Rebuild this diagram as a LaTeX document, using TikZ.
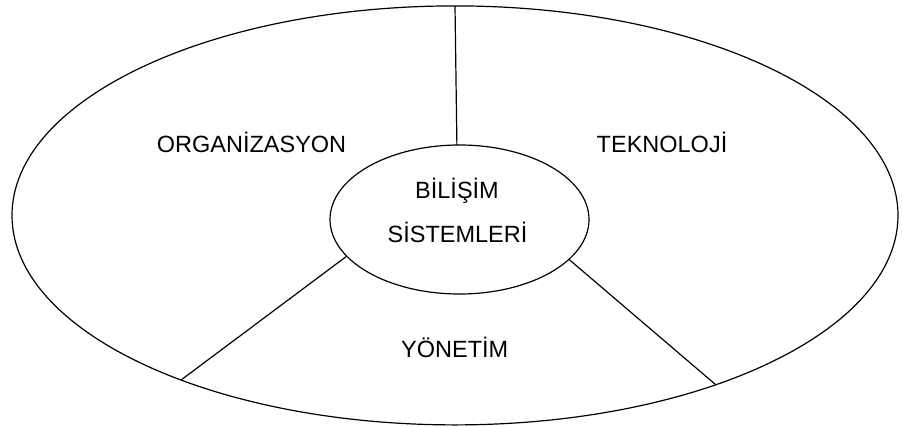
\documentclass[tikz,border=0pt]{standalone}
\usepackage{fontspec}
\setmainfont{Liberation Sans}
\usetikzlibrary{shapes.geometric}
\begin{document}
\begin{tikzpicture}[x=1pt,y=-1pt,
  ring/.style={draw=black,line width=1.2pt,ellipse,inner sep=0pt,outer sep=0pt},
  conn/.style={draw=black,line width=1.2pt},
  lbl/.style={inner sep=0pt,anchor=base,font=\fontsize{23.5}{28}\selectfont}]
\useasboundingbox (0,0) rectangle (902,426);
\node[ring,minimum width=886pt,minimum height=419pt] (big) at (455,215.4) {};
\node[ring,minimum width=259pt,minimum height=149pt] (small) at (459.5,219.5) {};
\draw[conn] (big.north) -- (small.92.7);
\draw[conn] (small.198.9) -- (big.211.9);
\draw[conn] (small.340.1) -- (big.327.4);
\node[lbl] (org) at (251.5,152) {ORGANİZASYON};
\node[lbl] (tek) at (662,152) {TEKNOLOJİ};
\node[lbl] (bil) at (457,198) {BİLİŞİM};
\node[lbl] (sis) at (457.5,242) {SİSTEMLERİ};
\node[lbl,anchor=base west] (yon) at (401,357) {YÖNETİM};
\end{tikzpicture}
\end{document}
